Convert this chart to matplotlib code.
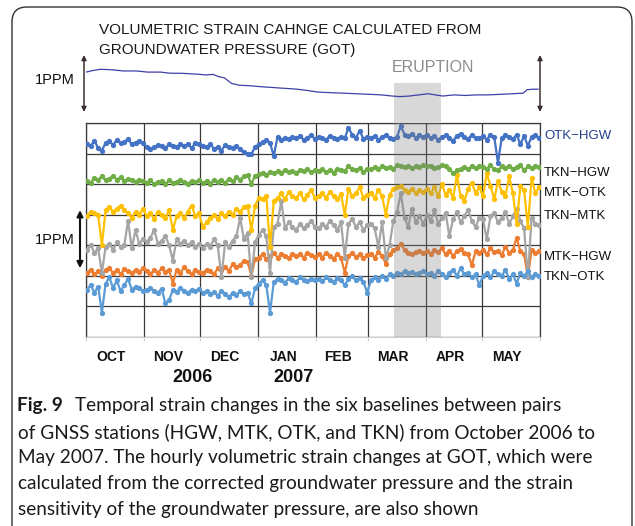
import matplotlib
matplotlib.use('Agg')
import matplotlib.pyplot as plt
from matplotlib.patches import FancyBboxPatch
from matplotlib.transforms import blended_transform_factory
import numpy as np

W, H, DPI = 635, 526, 100

# ---------------- data ----------------
MONTHS = ['OCT', 'NOV', 'DEC', 'JAN', 'FEB', 'MAR', 'APR', 'MAY']
MONTH_DAYS = [31, 30, 31, 31, 28, 31, 30, 31]
YEARS = ['2006', '2007']
YEAR_DAYS = [57, 111]
ERUPTION = (165, 190)          # days since 1 Oct 2006
DAY_STEP = 2                   # one value every 2 days

# relative strain (grid-row units), Oct..May
OTK_HGW = [6.30, 6.25, 6.42, 6.18, 6.10, 6.35, 6.40, 6.28, 6.45, 6.33, 6.38, 6.48, 6.30, 6.36, 6.42, 6.35,
           6.22, 6.15, 6.20, 6.28, 6.24, 6.18, 6.30, 6.25, 6.20, 6.32, 6.26, 6.30, 6.18, 6.35, 6.30,
           6.25, 6.20, 6.32, 6.15, 6.22, 6.10, 6.28, 6.20, 6.18, 6.24, 6.15, 6.05, 6.00, 5.98, 6.22,
           6.30, 6.38, 6.45, 6.35, 5.92, 6.55, 6.45, 6.52, 6.48, 6.55, 6.50, 6.58, 6.45, 6.52, 6.60, 6.48,
           6.55, 6.50, 6.45, 6.58, 6.52, 6.48, 6.55, 6.50, 6.85, 6.60, 6.52, 6.75, 6.48, 6.55,
           6.50, 6.58, 6.45, 6.55, 6.60, 6.52, 6.48, 6.55, 6.90, 6.62, 6.58, 6.65, 6.52, 6.60, 6.55,
           6.62, 6.50, 6.58, 6.45, 6.55, 6.60, 6.50, 6.42, 6.58, 6.65, 6.55, 6.48, 6.60, 6.52, 6.50,
           6.58, 6.45, 6.62, 6.55, 5.70, 6.50, 6.60, 6.55, 6.48, 6.62, 6.30, 6.58, 6.25, 6.55, 6.60, 6.50]
TKN_HGW = [5.10, 5.05, 5.20, 5.15, 5.25, 5.12, 5.18, 5.28, 5.15, 5.22, 5.10, 5.18, 5.12, 5.08, 5.15, 5.10,
           5.05, 5.12, 5.00, 5.08, 5.10, 5.02, 5.12, 5.05, 5.08, 5.15, 5.06, 5.02, 5.10, 5.08, 5.12,
           5.05, 5.10, 5.02, 5.15, 5.08, 5.12, 5.05, 5.18, 5.10, 5.22, 5.15, 5.25, 5.30, 5.00, 5.28,
           5.32, 5.38, 5.30, 5.40, 5.35, 5.42, 5.38, 5.45, 5.40, 5.43, 5.38, 5.45, 5.42, 5.48, 5.40, 5.45,
           5.42, 5.48, 5.40, 5.45, 5.38, 5.50, 5.45, 5.42, 5.60, 5.48, 5.45, 5.52, 5.40, 5.50,
           5.48, 5.55, 5.50, 5.58, 5.52, 5.55, 5.50, 5.62, 5.58, 5.55, 5.60, 5.52, 5.58, 5.55, 5.62,
           5.58, 5.60, 5.52, 5.55, 5.62, 5.58, 5.50, 5.35, 5.45, 5.50, 5.55, 5.48, 5.58, 5.52, 5.60,
           5.55, 5.50, 5.62, 5.48, 5.45, 5.58, 5.52, 5.60, 5.50, 5.55, 5.62, 5.45, 5.58, 5.52, 5.60, 5.55]
MTK_OTK = [3.95, 4.10, 4.05, 4.00, 3.00, 4.15, 4.25, 4.10, 4.20, 4.30, 4.15, 4.05, 3.90, 4.10, 4.00, 4.20,
           3.95, 4.05, 3.85, 4.10, 4.00, 3.90, 4.15, 3.50, 3.95, 4.05, 3.90, 4.10, 4.30, 3.95, 4.05,
           3.60, 3.75, 3.90, 4.00, 3.85, 4.05, 3.95, 4.10, 4.00, 4.20, 4.10, 4.25, 4.30, 3.50, 4.30,
           4.55, 4.50, 4.60, 2.95, 4.45, 4.55, 4.70, 4.50, 4.75, 4.60, 4.55, 4.70, 4.50, 4.65, 4.80, 4.55,
           4.60, 4.70, 4.55, 4.75, 4.60, 4.50, 4.68, 4.00, 4.85, 4.60, 4.70, 4.90, 4.55, 4.65,
           4.70, 4.55, 4.80, 4.60, 4.00, 4.65, 4.85, 4.90, 4.95, 4.80, 4.75, 4.85, 4.70, 4.80, 4.75,
           4.85, 4.70, 4.90, 4.60, 5.00, 4.65, 4.80, 4.55, 5.30, 4.60, 4.45, 4.85, 5.05, 4.70, 4.90,
           4.60, 5.35, 4.95, 4.50, 5.10, 4.75, 4.60, 5.25, 4.70, 3.70, 4.95, 4.80, 3.60, 5.20, 4.70, 4.90]
TKN_MTK = [2.85, 3.00, 2.75, 2.90, 2.10, 2.95, 3.05, 2.85, 3.10, 2.95, 3.00, 3.80, 2.90, 3.50, 3.05, 3.20,
           3.10, 3.25, 3.50, 3.05, 3.15, 3.30, 3.00, 2.50, 3.20, 3.05, 3.15, 3.00, 3.10, 2.95, 3.05,
           2.90, 3.05, 2.95, 3.20, 3.00, 1.95, 3.10, 2.95, 3.15, 3.30, 3.90, 3.20, 3.40, 1.95, 3.10,
           3.35, 3.50, 3.30, 2.10, 3.60, 3.70, 4.45, 3.55, 3.75, 3.60, 3.50, 3.70, 3.55, 3.65, 3.80, 3.60,
           3.55, 3.70, 3.60, 3.80, 3.65, 3.50, 3.75, 2.60, 3.70, 3.85, 3.60, 3.75, 3.50, 3.65,
           3.70, 3.55, 2.95, 3.75, 2.60, 3.00, 3.80, 4.10, 4.70, 3.90, 3.60, 4.20, 3.75, 3.95, 3.70,
           4.00, 3.80, 4.15, 3.70, 3.90, 4.05, 3.30, 3.85, 4.10, 3.75, 3.95, 4.15, 3.80, 3.60, 3.90,
           3.85, 3.20, 3.95, 4.05, 3.75, 3.90, 4.10, 3.70, 3.95, 4.20, 3.80, 3.55, 1.95, 3.90, 3.70, 3.65]
MTK_HGW = [2.10, 2.20, 2.05, 2.15, 2.00, 2.20, 2.25, 2.10, 2.18, 2.05, 2.22, 2.15, 2.08, 2.20, 2.12, 2.25,
           2.15, 2.05, 2.20, 2.10, 2.25, 2.12, 2.18, 1.75, 2.20, 2.10, 2.28, 2.15, 2.05, 2.20, 2.12,
           2.10, 2.20, 2.15, 2.05, 2.25, 2.18, 2.30, 2.15, 2.40, 2.28, 2.35, 2.50, 2.45, 2.00, 2.55,
           2.60, 2.70, 2.55, 2.65, 2.75, 2.60, 2.70, 2.65, 2.58, 2.72, 2.65, 2.70, 2.60, 2.75, 2.68, 2.62,
           2.70, 2.60, 2.75, 2.65, 2.55, 2.72, 2.60, 2.10, 2.65, 2.75, 2.62, 2.70, 2.58, 2.68,
           2.72, 2.60, 2.78, 2.65, 2.40, 2.70, 2.85, 2.90, 3.05, 2.85, 2.75, 2.70, 2.78, 2.82, 2.75,
           2.80, 2.72, 2.85, 2.78, 2.90, 2.70, 2.82, 2.65, 2.80, 2.88, 2.75, 2.70, 2.35, 2.80, 2.75,
           2.85, 2.70, 2.90, 2.78, 2.82, 2.68, 2.95, 2.75, 2.85, 3.25, 2.80, 2.70, 1.95, 2.85, 2.75, 2.80]
TKN_OTK = [1.55, 1.70, 1.45, 1.65, 0.80, 1.75, 1.95, 1.60, 1.85, 1.50, 1.70, 1.90, 1.55, 1.65, 1.60, 1.50,
           1.55, 1.60, 1.50, 1.45, 1.58, 1.10, 1.20, 1.55, 1.48, 1.60, 1.52, 1.45, 1.55, 1.50, 1.58,
           1.45, 1.50, 1.40, 1.48, 1.35, 1.50, 1.42, 1.30, 1.45, 1.38, 1.50, 1.40, 1.45, 1.10, 1.60,
           1.75, 1.85, 1.70, 0.80, 1.80, 1.90, 1.85, 1.78, 1.92, 1.85, 1.80, 1.95, 1.88, 1.82, 1.90, 1.85,
           1.90, 1.82, 1.95, 1.88, 1.80, 1.92, 1.85, 1.70, 1.90, 1.98, 1.85, 1.92, 1.80, 1.45,
           1.85, 1.95, 1.88, 2.00, 1.90, 2.05, 1.98, 2.10, 2.05, 2.15, 2.08, 2.12, 2.05, 2.10, 2.15,
           2.05, 2.10, 2.00, 2.15, 2.05, 1.95, 2.10, 2.20, 2.00, 2.25, 2.05, 2.10, 1.95, 2.05, 1.70,
           2.00, 2.10, 1.95, 2.15, 2.05, 2.00, 2.20, 1.90, 2.05, 1.75, 2.10, 2.00, 2.15, 1.95, 2.05, 2.00]

SERIES_NAMES = ['OTK\u2212HGW', 'MTK\u2212HGW', 'TKN\u2212MTK', 'MTK\u2212OTK', 'TKN\u2212OTK', 'TKN\u2212HGW']
SERIES_VALUES = [OTK_HGW, MTK_HGW, TKN_MTK, MTK_OTK, TKN_OTK, TKN_HGW]

# volumetric strain at GOT (ppm, relative)
GOT_DAYS = [0, 4, 8, 14, 20, 27, 33, 40, 45, 51, 56, 61, 64, 68, 71, 74, 76, 78, 82, 88, 95, 100,
            104, 109, 113, 118, 124, 130, 138, 145, 152, 158, 164, 168, 173, 178, 183, 187, 191,
            197, 203, 209, 215, 222, 228, 234, 236, 239, 242]
GOT_PPM = [0.70, 0.73, 0.75, 0.74, 0.72, 0.72, 0.70, 0.70, 0.68, 0.68, 0.67, 0.66, 0.65, 0.66,
           0.62, 0.60, 0.55, 0.50, 0.47, 0.46, 0.44, 0.43, 0.42, 0.41, 0.40, 0.38, 0.35, 0.34,
           0.33, 0.32, 0.31, 0.30, 0.28, 0.27, 0.28, 0.30, 0.32, 0.30, 0.28, 0.30, 0.29, 0.30,
           0.30, 0.31, 0.32, 0.33, 0.39, 0.40, 0.40]

CAPTION_BOLD = 'Fig. 9'
CAPTION_LINES = ['Temporal strain changes in the six baselines between pairs',
                 'of GNSS stations (HGW, MTK, OTK, and TKN) from October 2006 to',
                 'May 2007. The hourly volumetric strain changes at GOT, which were',
                 'calculated from the corrected groundwater pressure and the strain',
                 'sensitivity of the groundwater pressure, are also shown']

# ---------------- styles ----------------
COLORS = {'OTK\u2212HGW': '#4472C4', 'MTK\u2212HGW': '#ED7D31', 'TKN\u2212MTK': '#A5A5A5',
          'MTK\u2212OTK': '#FFC000', 'TKN\u2212OTK': '#5B9BD5', 'TKN\u2212HGW': '#70AD47'}
LABEL_Y = {'OTK\u2212HGW': 136, 'TKN\u2212HGW': 173, 'MTK\u2212OTK': 193,
           'TKN\u2212MTK': 216, 'MTK\u2212HGW': 257, 'TKN\u2212OTK': 277}

def fx(x):
    return x / W

def fy(y):
    return 1 - y / H

fig = plt.figure(figsize=(W / DPI, H / DPI), dpi=DPI)
fig.patch.set_facecolor('white')

# outer rounded frame
frame = FancyBboxPatch((0.12, -0.5), 6.20, 5.19 + 0.5,
                       boxstyle='round,pad=0,rounding_size=0.15',
                       transform=fig.dpi_scale_trans, facecolor='none',
                       edgecolor='#333333', lw=1.0)
fig.patches.append(frame)

bounds = np.concatenate([[0], np.cumsum(MONTH_DAYS)])
total_days = bounds[-1]

# ---------------- main panel ----------------
ax = fig.add_axes([fx(86), fy(337), (540 - 86) / W, (337 - 123) / H])
ax.set_xlim(0, total_days)
ax.set_ylim(0, 7)
ax.set_xticks(bounds)
ax.set_yticks(range(8))
ax.grid(True, color='#3a3a3a', lw=0.9)
ax.set_axisbelow(True)
ax.tick_params(length=3, color='#d0d0d0', labelbottom=False, labelleft=False, left=False)
for s in ['top', 'left', 'right']:
    ax.spines[s].set_color('#3a3a3a')
    ax.spines[s].set_linewidth(0.9)
ax.spines['bottom'].set_color('#d0d0d0')

for name, vals in zip(SERIES_NAMES, SERIES_VALUES):
    days = np.arange(len(vals)) * DAY_STEP + 0.5
    ax.plot(days, vals, color=COLORS[name], lw=1.6, marker='o', ms=3.8,
            markeredgewidth=0, zorder=3)

ax.axvspan(ERUPTION[0], ERUPTION[1], color='#808080', alpha=0.3, lw=0, zorder=5)

# month & year labels
tr = blended_transform_factory(ax.transData, fig.transFigure)
for i, m in enumerate(MONTHS):
    c = (bounds[i] + bounds[i + 1]) / 2 - 2
    ax.text(c, fy(357), m, transform=tr, ha='center', va='center',
            fontsize=10, fontweight='bold', family=['Liberation Sans'], color='#111111')
for yl, yd in zip(YEARS, YEAR_DAYS):
    ax.text(yd, fy(378), yl, transform=tr, ha='center', va='center',
            fontsize=13, fontweight='bold', family=['Liberation Sans Narrow', 'Liberation Sans'],
            color='#111111')

# series labels on the right
for name in SERIES_NAMES:
    fig.text(fx(544), fy(LABEL_Y[name]), name, ha='left', va='center', fontsize=9.5,
             family=['Liberation Sans'],
             color='#24408e' if name == 'OTK\u2212HGW' else '#111111')

# lower 1PPM arrow
tr_l = blended_transform_factory(ax.transAxes, ax.transData)
ax.annotate('', xy=(-6 / 454, 4.15), xytext=(-6 / 454, 2.25), xycoords=tr_l, textcoords=tr_l,
            arrowprops=dict(arrowstyle='<|-|>', color='#111111', lw=1.5,
                            mutation_scale=9, shrinkA=0, shrinkB=0), annotation_clip=False)
fig.text(fx(75), fy(240), '1PPM', ha='right', va='center', fontsize=10.5,
         family=['Liberation Sans'], color='#111111')

# ---------------- GOT panel ----------------
gax = fig.add_axes([fx(86), fy(123), (540 - 86) / W, (123 - 52) / H])
gax.set_xlim(0, total_days)
gax.set_ylim(-11 / 57, 60 / 57)
gax.axis('off')
gax.axvspan(ERUPTION[0], ERUPTION[1], ymin=0, ymax=(123 - 83) / 71, color='#d9d9d9', lw=0, zorder=0)
gax.plot(GOT_DAYS, GOT_PPM, color='#3f3fa8', lw=0.9, zorder=2)

tr_g = blended_transform_factory(gax.transAxes, gax.transData)
for xa in (-2 / 454, 1.0):
    gax.annotate('', xy=(xa, 1.0), xytext=(xa, 0.0), xycoords=tr_g, textcoords=tr_g,
                 arrowprops=dict(arrowstyle='<|-|>', color='#3b2f2f', lw=1.1,
                                 mutation_scale=7, shrinkA=0, shrinkB=0), annotation_clip=False)
fig.text(fx(75), fy(80), '1PPM', ha='right', va='center', fontsize=10.5,
         family=['Liberation Sans'], color='#111111')
fig.text(fx(433), fy(68), 'ERUPTION', ha='center', va='center', fontsize=11.5,
         family=['Liberation Sans'], color='#8c8c8c')
fig.text(fx(99), fy(30), 'VOLUMETRIC STRAIN CAHNGE CALCULATED FROM', ha='left', va='center',
         fontsize=11, family=['Liberation Sans'], color='#1a1a1a')
fig.text(fx(99), fy(50), 'GROUNDWATER PRESSURE (GOT)', ha='left', va='center',
         fontsize=11, family=['Liberation Sans'], color='#1a1a1a')

# ---------------- caption ----------------
renderer = fig.canvas.get_renderer()
cap_family = ['Lato', 'DejaVu Sans']
probe = fig.text(0, 0, CAPTION_LINES[1], fontsize=10, family=cap_family)
wprobe = probe.get_window_extent(renderer).width
probe.remove()
cap_size = 10 * (593 - 18) / wprobe

cap_y = [405, 432, 458, 484, 510]
b = fig.text(fx(17), fy(cap_y[0]), CAPTION_BOLD, ha='left', va='center', fontsize=cap_size,
             fontweight='bold', family=cap_family, color='#1a1a1a')
bw = b.get_window_extent(renderer).width
fig.text(fx(17 + bw + 12), fy(cap_y[0]), CAPTION_LINES[0], ha='left', va='center',
         fontsize=cap_size, family=cap_family, color='#1a1a1a')
for line, yy in zip(CAPTION_LINES[1:], cap_y[1:]):
    fig.text(fx(18), fy(yy), line, ha='left', va='center', fontsize=cap_size,
             family=cap_family, color='#1a1a1a')

fig.savefig('out.png', dpi=DPI)
